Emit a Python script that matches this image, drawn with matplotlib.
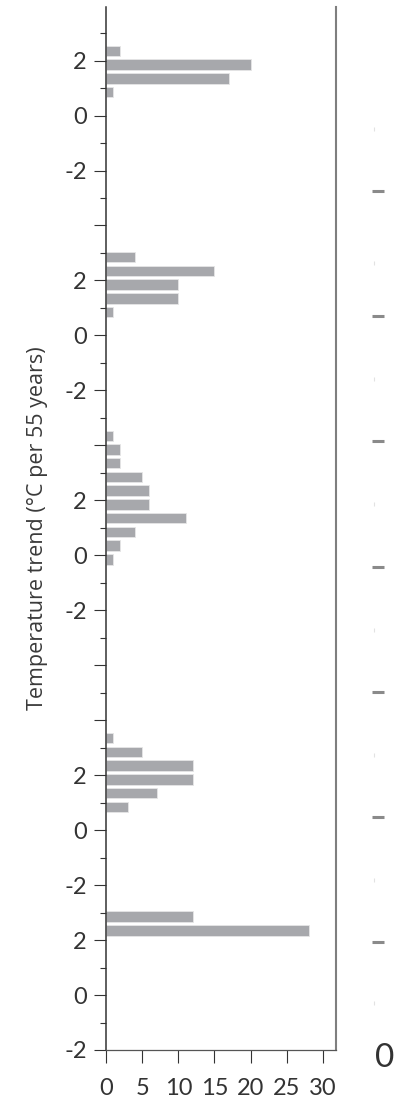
import numpy as np
import matplotlib.pyplot as plt

# Histogram counts per 0.5 degC bin, one stack of bars per panel (top to bottom)
p1_bins = [0.85, 1.35, 1.85, 2.35]
p1_counts = [1, 17, 20, 2]

p2_bins = [0.85, 1.35, 1.85, 2.35, 2.85]
p2_counts = [1, 10, 10, 15, 4]

p3_bins = [-0.15, 0.35, 0.85, 1.35, 1.85, 2.35, 2.85, 3.35, 3.85, 4.35]
p3_counts = [1, 2, 4, 11, 6, 6, 5, 2, 2, 1]

p4_bins = [0.85, 1.35, 1.85, 2.35, 2.85, 3.35]
p4_counts = [3, 7, 12, 12, 5, 1]

p5_bins = [2.35, 2.85]
p5_counts = [28, 12]

# where the "0" of each panel sits on the shared vertical axis
panel_zero = [34, 26, 18, 8, 2]

major_pos = np.arange(0, 37, 2)
major_labels = ['-2', '0', '2', '-2', '0', '2', '', '', '-2', '0', '2', '',
                '-2', '0', '2', '', '-2', '0', '2']
minor_pos = np.arange(1, 38, 2)

x_ticks = [0, 5, 10, 15, 20, 25, 30]

# leftovers of the neighbouring panel on the right
right_marks = [31.25, 26.69, 22.15, 17.56, 13.02, 8.47, 3.93]
right_faint = [33.5, 28.65, 24.4, 19.85, 15.3, 10.73, 6.2, 1.7]

bar_color = '#a7a8ac'
dark = '#333333'

fig = plt.figure(figsize=(3.97, 10.98), dpi=100)
ax = fig.add_axes([106 / 397, 1 - 1050 / 1098, 230 / 397, 1043 / 1098])

panels = [(p1_bins, p1_counts), (p2_bins, p2_counts), (p3_bins, p3_counts),
          (p4_bins, p4_counts), (p5_bins, p5_counts)]
for (bins, counts), zero in zip(panels, panel_zero):
    ax.barh(np.array(bins) + zero, counts, height=0.38, color=bar_color,
            edgecolor='#e6e6e6', linewidth=0.6)

ax.set_xlim(0, 31.8)
ax.set_ylim(0, 37.95)

ax.set_yticks(major_pos)
ax.set_yticklabels(major_labels)
ax.set_yticks(minor_pos, minor=True)
ax.set_xticks(x_ticks)

ax.tick_params(axis='y', which='major', length=9, width=0.8, color=dark,
               pad=5, labelsize=17, labelcolor=dark)
ax.tick_params(axis='y', which='minor', length=4.5, width=0.8, color=dark)
ax.tick_params(axis='x', length=9, width=0.8, color=dark, pad=11,
               labelsize=17, labelcolor=dark)
for lab in ax.get_xticklabels() + ax.get_yticklabels():
    lab.set_fontfamily('Lato')

ax.spines['top'].set_visible(False)
ax.spines['left'].set_color(dark)
ax.spines['left'].set_linewidth(1.1)
ax.spines['bottom'].set_color('#555555')
ax.spines['bottom'].set_linewidth(0.9)
ax.spines['right'].set_color('#7f7f7f')
ax.spines['right'].set_linewidth(1.5)

ax.set_ylabel('Temperature trend (°C per 55 years)', fontsize=15.5,
              family='Open Sans', color='#3a3a3a')
ax.yaxis.set_label_coords(-0.25, 0.5)

ax.plot([37.6] * len(right_marks), right_marks, linestyle='none', marker='_',
        markersize=8, markeredgewidth=2.2, color='#8a8a8a', clip_on=False)
ax.plot([37.0] * len(right_faint), right_faint, linestyle='none', marker='|',
        markersize=3, markeredgewidth=0.8, color='#e2e2e2', clip_on=False)
fig.text(375 / 397, 1 - 1058 / 1098, '0', fontsize=24, family='Lato',
         color=dark, ha='left', va='center')

fig.savefig('out.png', dpi=100)
